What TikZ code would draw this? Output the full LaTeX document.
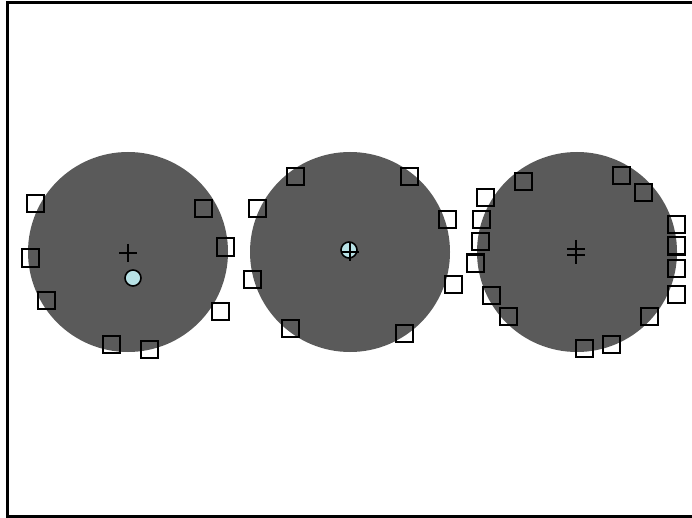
\documentclass[tikz,border=0pt]{standalone}
\usepackage{tikz}

\definecolor{diskgray}{RGB}{90,90,90}
\definecolor{markblue}{RGB}{184,226,230}

\tikzset{
  disk/.style={fill=diskgray},
  sample/.style={draw=black, line width=2pt, minimum size=17pt, inner sep=0pt, rectangle},
  centre/.style={draw=black, line width=1.6pt, fill=markblue, circle, minimum size=16pt, inner sep=0pt},
  cross/.style={line width=2pt}
}

\newcommand{\crossmark}[2]{%
  \draw[cross] (#1-9,#2) -- (#1+9,#2);
  \draw[cross] (#1,#2-9) -- (#1,#2+9);
}

\begin{document}
\begin{tikzpicture}[x=1pt, y=-1pt]

        \useasboundingbox (0,0) rectangle (692,518);

        % Frame (open on the right)
        \draw[line width=3pt] (7,3) rectangle (720,516);

        % Disks
        \fill[disk] (128,252) circle[radius=100];
        \fill[disk] (350,252) circle[radius=100];
        \fill[disk] (577,252) circle[radius=100];

        % Disk 1
        \node[sample] (a1) at (35,204) {};
        \node[sample] (a2) at (30,258) {};
        \node[sample] (a3) at (46,300) {};
        \node[sample] (a4) at (111,344) {};
        \node[sample] (a5) at (149,349) {};
        \node[sample] (a6) at (220,311) {};
        \node[sample] (a7) at (225,247) {};
        \node[sample] (a8) at (203,209) {};
        \crossmark{128}{253}
        \node[centre] (ca) at (133,278) {};

        % Disk 2
        \node[sample] (b1) at (295,177) {};
        \node[sample] (b2) at (257,209) {};
        \node[sample] (b3) at (252,279) {};
        \node[sample] (b4) at (290,328) {};
        \node[sample] (b5) at (404,333) {};
        \node[sample] (b6) at (453,284) {};
        \node[sample] (b7) at (447,220) {};
        \node[sample] (b8) at (409,177) {};
        \node[centre] (cb) at (349,250) {};
        \crossmark{350}{252}

        % Disk 3
        \node[sample] (c1) at (523,182) {};
        \node[sample] (c2) at (485,198) {};
        \node[sample] (c3) at (481,220) {};
        \node[sample] (c4) at (480,242) {};
        \node[sample] (c5) at (475,263) {};
        \node[sample] (c6) at (491,295) {};
        \node[sample] (c7) at (508,316) {};
        \node[sample] (c8) at (584,348) {};
        \node[sample] (c9) at (611,344) {};
        \node[sample] (c10) at (649,316) {};
        \node[sample] (c11) at (676,294) {};
        \node[sample] (c12) at (676,268) {};
        \node[sample] (c13) at (676,246) {};
        \node[sample] (c14) at (676,225) {};
        \node[sample] (c15) at (643,193) {};
        \node[sample] (c16) at (621,176) {};
        \crossmark{576}{249}
        \crossmark{576}{255}

    \end{tikzpicture}
\end{document}
